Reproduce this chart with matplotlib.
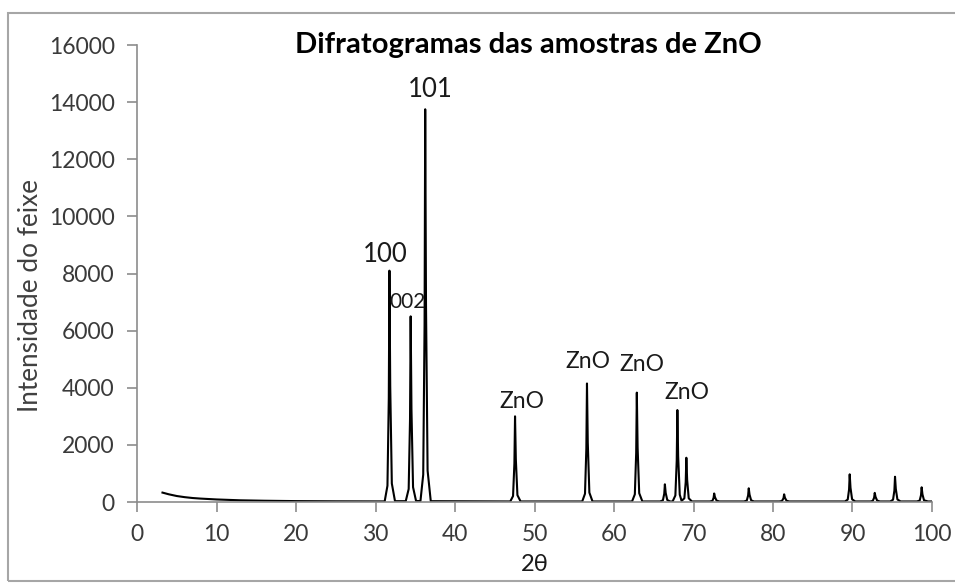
import matplotlib.pyplot as plt
from matplotlib.patches import Rectangle

# Difratograma de ZnO
two_theta = [
    3.2, 4, 5, 6, 7, 8, 10, 13, 16, 20, 25, 30,
    31.15, 31.5, 31.67, 31.75, 31.85, 32.05, 32.45,          # 100
    33.8, 34.17, 34.34, 34.42, 34.52, 34.72, 35.1,           # 002
    35.65, 36.0, 36.17, 36.25, 36.35, 36.55, 36.95,          # 101
    46.95, 47.3, 47.47, 47.55, 47.65, 47.85, 48.25,          # 102
    56.0, 56.35, 56.52, 56.6, 56.7, 56.9, 57.3,              # 110
    62.27, 62.62, 62.79, 62.87, 62.97, 63.17, 63.57,         # 103
    65.8, 66.15, 66.32, 66.4, 66.5, 66.7, 67.05,             # 200
    67.37, 67.72, 67.89, 67.97, 68.07, 68.27,                # 112
    68.5, 68.85, 69.02, 69.1, 69.2, 69.4, 69.8,              # 201
    72.05, 72.38, 72.53, 72.6, 72.7, 72.9, 73.25,            # 004
    76.35, 76.7, 76.87, 76.95, 77.05, 77.25, 77.6,           # 202
    80.8, 81.12, 81.32, 81.4, 81.5, 81.7, 82.05,             # 104
    89.05, 89.4, 89.57, 89.65, 89.75, 89.95, 90.35,          # 203
    92.25, 92.55, 92.72, 92.8, 92.9, 93.1, 93.45,            # 210
    94.75, 95.1, 95.27, 95.35, 95.45, 95.65, 96.05,          # 211
    98.1, 98.45, 98.62, 98.7, 98.8, 99.0, 99.5, 100,         # 114
]
intensity = [
    330, 270, 210, 170, 140, 120, 90, 60, 45, 32, 25, 22,
    22, 570, 3650, 8100, 4050, 650, 30,
    30, 455, 2900, 6500, 3250, 520, 35,
    35, 960, 6200, 13750, 6900, 1100, 30,
    20, 210, 1350, 3000, 1500, 240, 20,
    20, 290, 1870, 4150, 2080, 330, 20,
    20, 270, 1720, 3830, 1900, 310, 20,
    20, 60, 290, 620, 320, 70, 20,
    20, 230, 1450, 3220, 1600, 260,
    40, 130, 700, 1550, 780, 130, 20,
    20, 40, 150, 300, 170, 50, 20,
    20, 50, 230, 480, 260, 60, 20,
    20, 35, 130, 270, 150, 45, 20,
    20, 85, 440, 970, 500, 95, 20,
    20, 40, 150, 320, 180, 50, 20,
    20, 80, 400, 885, 460, 90, 20,
    20, 50, 240, 515, 270, 60, 20, 20,
]

peak_labels = ["101", "100", "002", "ZnO", "ZnO", "ZnO", "ZnO"]
label_x = [36.9, 31.2, 34.0, 48.4, 56.7, 63.5, 69.2]
label_y = [14450, 8650, 7000, 3530, 4930, 4830, 3850]
label_size = [18.5, 18.5, 15, 16.5, 16.5, 16.5, 16.5]

x_ticks = list(range(0, 101, 10))
y_ticks = list(range(0, 16001, 2000))

plt.rcParams['font.family'] = ['Lato', 'DejaVu Sans']

fig = plt.figure(figsize=(9.55, 5.83), dpi=100)
ax = fig.add_axes([0.1435, 0.1389, 0.8324, 0.7839])

ax.plot(two_theta, intensity, color='black', lw=1.5)

for txt, lx, ly, fs in zip(peak_labels, label_x, label_y, label_size):
    ax.text(lx, ly, txt, ha='center', va='center', fontsize=fs, color='#1a1a1a')

ax.set_xlim(0, 100)
ax.set_ylim(0, 16000)
ax.set_xticks(x_ticks)
ax.set_yticks(y_ticks)

for side in ['top', 'right']:
    ax.spines[side].set_visible(False)
for side in ['left', 'bottom']:
    ax.spines[side].set_color('#8c8c8c')
    ax.spines[side].set_linewidth(1.2)

ax.tick_params(axis='both', direction='out', length=7, width=1.2, color='#8c8c8c',
               labelsize=16.5, labelcolor='#3a3a3a', pad=9)

fig.text(0.553, 0.923, "Difratogramas das amostras de ZnO", fontsize=21, fontweight='bold',
         color='black', ha='center', va='center')
ax.set_xlabel("2θ", fontsize=17, color='#1a1a1a', labelpad=6)
ax.set_ylabel("Intensidade do feixe", fontsize=18.8, color='#404040')
ax.yaxis.set_label_coords(-0.118, 0.451)

# moldura cinza do grafico
fig.patches.append(Rectangle((8 / 955, 2 / 583), 1.2, 568 / 583, transform=fig.transFigure,
                             fill=False, edgecolor='#a6a6a6', lw=1.5))

fig.savefig("out.png", dpi=100)
